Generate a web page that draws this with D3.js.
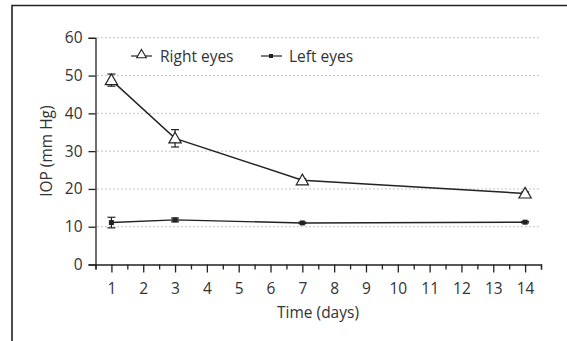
<!DOCTYPE html>
<html>
<head>
<meta charset="utf-8">
<script src="https://cdn.jsdelivr.net/npm/d3@7"></script>
<style>
  body { margin: 0; background: #fff; }
  text { font-family: "Open Sans", sans-serif; fill: #333; }
</style>
</head>
<body>
<svg id="canvas" width="567" height="341"></svg>
<script>
let days = [1, 3, 7, 14];
let rightEyes = [48.8, 33.4, 22.3, 18.8];
let rightErr = [1.6, 2.3, 0.4, 0.4];
let leftEyes = [11.1, 11.8, 11.0, 11.2];
let leftErr = [1.4, 0.5, 0.2, 0.2];
let xTicks = [1, 2, 3, 4, 5, 6, 7, 8, 9, 10, 11, 12, 13, 14];
let yTicks = [0, 10, 20, 30, 40, 50, 60];

let canvas = d3.select('#canvas');
let ink = '#222';
let fontSize = '15.5px';

// frame (top and left only)
canvas.append('path')
	.attr('d', 'M12,341V5.5H567')
	.attr('fill', 'none')
	.attr('stroke', '#222')
	.attr('stroke-width', 1.6);

let xScale = d3.scaleLinear().domain([0.5, 14.5]).range([95.5, 541]);
let yScale = d3.scaleLinear().domain([0, 60]).range([264.5, 37.8]);

// dotted grid
canvas.selectAll('.grid')
	.data(yTicks.filter((d) => d > 0))
	.enter()
	.append('line')
	.attr('class', 'grid')
	.attr('x1', xScale(0.5) + 2)
	.attr('x2', xScale(14.5))
	.attr('y1', (d) => yScale(d))
	.attr('y2', (d) => yScale(d))
	.attr('stroke', '#888')
	.attr('stroke-width', 1)
	.attr('stroke-dasharray', '1,3');

// y axis
let yAxis = d3.axisLeft(yScale).tickValues(yTicks).tickSize(7).tickPadding(6);
let gy = canvas.append('g').attr('transform', 'translate(' + xScale(0.5) + ',0)').call(yAxis);
gy.select('.domain').attr('stroke', ink).attr('stroke-width', 1.3);
gy.selectAll('.tick line').attr('stroke', ink).attr('stroke-width', 1.3);
gy.selectAll('text').style('font-size', fontSize).attr('fill', '#333');

// x axis: minor ticks at half days
let halfTicks = d3.range(0.5, 15, 1);
let xMinor = d3.axisBottom(xScale).tickValues(halfTicks).tickSize(5).tickFormat('');
let gxm = canvas.append('g').attr('transform', 'translate(0,' + yScale(0) + ')').call(xMinor);
gxm.select('.domain').attr('stroke', ink).attr('stroke-width', 1.3);
gxm.selectAll('.tick line').attr('stroke', ink).attr('stroke-width', 1.3);

let xAxis = d3.axisBottom(xScale).tickValues(xTicks).tickSize(8).tickPadding(10);
let gx = canvas.append('g').attr('transform', 'translate(0,' + yScale(0) + ')').call(xAxis);
gx.select('.domain').remove();
gx.selectAll('.tick line').attr('stroke', ink).attr('stroke-width', 1.3);
gx.selectAll('text').style('font-size', fontSize).attr('fill', '#333');

// axis titles
canvas.append('text')
	.attr('x', 318)
	.attr('y', 318)
	.attr('text-anchor', 'middle')
	.style('font-size', fontSize)
	.text('Time (days)');

canvas.append('text')
	.attr('transform', 'translate(52,' + yScale(30) + ') rotate(-90)')
	.attr('text-anchor', 'middle')
	.style('font-size', fontSize)
	.text('IOP (mm Hg)');

let line = d3.line()
	.x((d) => xScale(d[0]))
	.y((d) => yScale(d[1]));

let triangle = d3.symbol().type(d3.symbolTriangle).size(65);

let drawSeries = (values, errs, marker) => {
	let pts = days.map((d, i) => [d, values[i], errs[i]]);
	let g = canvas.append('g');
	g.append('path')
		.attr('d', line(pts))
		.attr('fill', 'none')
		.attr('stroke', ink)
		.attr('stroke-width', 1.4);
	let eb = g.selectAll('.err').data(pts).enter().append('g');
	eb.append('line')
		.attr('x1', (d) => xScale(d[0])).attr('x2', (d) => xScale(d[0]))
		.attr('y1', (d) => yScale(d[1] - d[2])).attr('y2', (d) => yScale(d[1] + d[2]))
		.attr('stroke', ink).attr('stroke-width', 1.2);
	[-1, 1].forEach((s) => {
		eb.append('line')
			.attr('x1', (d) => xScale(d[0]) - 4).attr('x2', (d) => xScale(d[0]) + 4)
			.attr('y1', (d) => yScale(d[1] + s * d[2])).attr('y2', (d) => yScale(d[1] + s * d[2]))
			.attr('stroke', ink).attr('stroke-width', 1.2);
	});
	if (marker === 'triangle') {
		g.selectAll('.m').data(pts).enter().append('path')
			.attr('d', triangle)
			.attr('transform', (d) => 'translate(' + xScale(d[0]) + ',' + (yScale(d[1]) + 1) + ')')
			.attr('fill', '#fff')
			.attr('stroke', ink)
			.attr('stroke-width', 1.2);
	} else {
		g.selectAll('.m').data(pts).enter().append('rect')
			.attr('x', (d) => xScale(d[0]) - 2.5)
			.attr('y', (d) => yScale(d[1]) - 2.5)
			.attr('width', 5).attr('height', 5)
			.attr('fill', ink);
	}
};

drawSeries(rightEyes, rightErr, 'triangle');
drawSeries(leftEyes, leftErr, 'square');

// legend
let legendY = 56;
canvas.append('line').attr('x1', 131).attr('x2', 152).attr('y1', legendY).attr('y2', legendY)
	.attr('stroke', ink).attr('stroke-width', 1.2);
canvas.append('path').attr('d', d3.symbol().type(d3.symbolTriangle).size(40))
	.attr('transform', 'translate(141.5,' + (legendY - 1) + ')')
	.attr('fill', '#fff').attr('stroke', ink).attr('stroke-width', 1.1);
canvas.append('text').attr('x', 160).attr('y', legendY + 5.5).style('font-size', fontSize).text('Right eyes');

canvas.append('line').attr('x1', 261).attr('x2', 282).attr('y1', legendY).attr('y2', legendY)
	.attr('stroke', ink).attr('stroke-width', 1.2);
canvas.append('rect').attr('x', 269).attr('y', legendY - 2).attr('width', 4).attr('height', 4).attr('fill', ink);
canvas.append('text').attr('x', 289).attr('y', legendY + 5.5).style('font-size', fontSize).text('Left eyes');
</script>
</body>
</html>
